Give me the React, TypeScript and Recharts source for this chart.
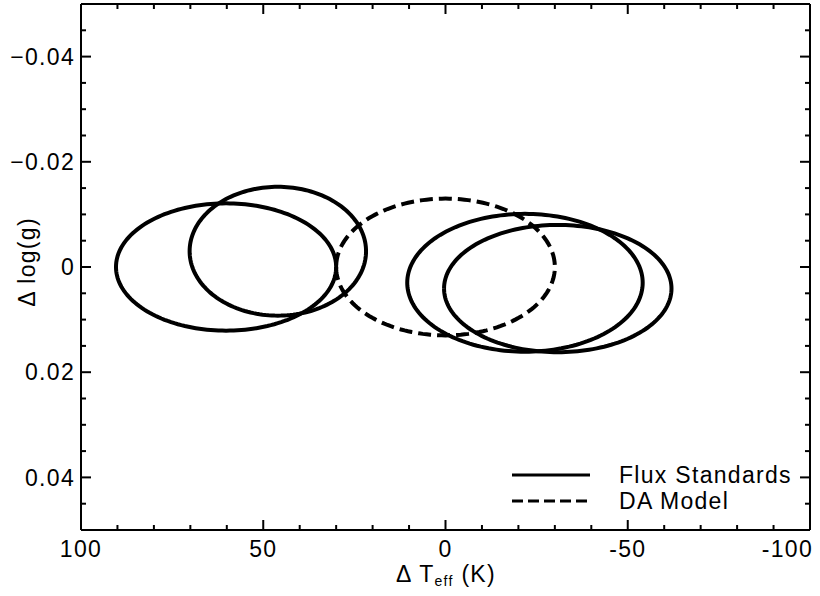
import React from "react";
import { ScatterChart, Scatter, XAxis, YAxis } from "recharts";

// error ellipses: centre and semi-axes
const ELLIPSE_NAMES = ["Star A", "Star B", "DA Model", "Star C", "Star D"];
const CENTER_TEFF = [60.2, 46, 0, -21.8, -30.8];
const CENTER_LOGG = [0, -0.003, 0, 0.003, 0.0041];
const SEMI_TEFF = [30.2, 24.2, 30, 32.3, 31.2];
const SEMI_LOGG = [0.0121, 0.01225, 0.013, 0.0131, 0.0121];
const IS_MODEL = [false, false, true, false, false];

const X_TICKS = [100, 90, 80, 70, 60, 50, 40, 30, 20, 10, 0, -10, -20, -30, -40, -50, -60, -70, -80, -90, -100];
const X_MAJOR = [100, 50, 0, -50, -100];
const Y_TICKS = [
  -0.05, -0.045, -0.04, -0.035, -0.03, -0.025, -0.02, -0.015, -0.01, -0.005, 0,
  0.005, 0.01, 0.015, 0.02, 0.025, 0.03, 0.035, 0.04, 0.045, 0.05,
];
const Y_MAJOR = [-0.04, -0.02, 0, 0.02, 0.04];

const LEGEND_LABELS = ["Flux Standards", "DA Model"];
const LEGEND_DASHED = [false, true];

const W = 820;
const H = 596;
const FONT = "'Liberation Sans', Arial, Helvetica, sans-serif";
const LS = "1.3px";
const DASH = "13 6";
const STEPS = 180;

const isMajor = (list: number[], v: number) => list.some(m => Math.abs(m - v) < 1e-9);

const ellipse = (i: number) => {
  const pts: { x: number; y: number }[] = [];
  for (let k = 0; k <= STEPS; k++) {
    const t = (2 * Math.PI * k) / STEPS;
    pts.push({
      x: CENTER_TEFF[i] + SEMI_TEFF[i] * Math.cos(t),
      y: CENTER_LOGG[i] + SEMI_LOGG[i] * Math.sin(t),
    });
  }
  return pts;
};

const fmtY = (v: number) => (Math.abs(v) < 1e-9 ? "0" : (v < 0 ? "\u2212" : "") + Math.abs(v).toFixed(2));

const BottomTick = (p: any) => {
  const v = p.payload.value;
  const major = isMajor(X_MAJOR, v);
  const last = v === -100;
  return (
    <g>
      <line x1={p.x} x2={p.x} y1={p.y} y2={p.y - (major ? 10 : 5)} stroke="#000" strokeWidth={2} />
      {major && (
        <text x={last ? p.x + 3 : p.x} y={p.y + 27} textAnchor={last ? "end" : "middle"} fontSize={23} fontFamily={FONT} letterSpacing={LS} fill="#000">
          {String(v)}
        </text>
      )}
    </g>
  );
};

const TopTick = (p: any) => {
  const major = isMajor(X_MAJOR, p.payload.value);
  return <line x1={p.x} x2={p.x} y1={p.y} y2={p.y + (major ? 10 : 5)} stroke="#000" strokeWidth={2} />;
};

const LeftTick = (p: any) => {
  const v = p.payload.value;
  const major = isMajor(Y_MAJOR, v);
  return (
    <g>
      <line x1={p.x} x2={p.x + (major ? 10 : 5)} y1={p.y} y2={p.y} stroke="#000" strokeWidth={2} />
      {major && (
        <text x={p.x - 6} y={p.y} dy="0.36em" textAnchor="end" fontSize={23} fontFamily={FONT} letterSpacing={LS} fill="#000">
          {fmtY(v)}
        </text>
      )}
    </g>
  );
};

const RightTick = (p: any) => {
  const major = isMajor(Y_MAJOR, p.payload.value);
  return <line x1={p.x} x2={p.x - (major ? 10 : 5)} y1={p.y} y2={p.y} stroke="#000" strokeWidth={2} />;
};

const axisLine = { stroke: "#000", strokeWidth: 2 };

export default function App() {
  return (
    <div style={{ position: "absolute", left: 0, top: 0, width: W, height: H, background: "#fff", fontFamily: FONT }}>
      <ScatterChart width={W} height={H} margin={{ top: 3, right: 9, bottom: 65, left: 80 }}>
        <XAxis
          type="number" dataKey="x" domain={[-100, 100]} reversed allowDataOverflow
          ticks={X_TICKS} interval={0} height={1} tickSize={0} tickMargin={0}
          tickLine={false} axisLine={axisLine} tick={<BottomTick />}
        />
        <XAxis
          xAxisId="top" orientation="top" type="number" dataKey="x" domain={[-100, 100]} reversed allowDataOverflow
          ticks={X_TICKS} interval={0} height={1} tickSize={0} tickMargin={0}
          tickLine={false} axisLine={axisLine} tick={<TopTick />}
        />
        <YAxis
          type="number" dataKey="y" domain={[-0.05, 0.05]} reversed allowDataOverflow
          ticks={Y_TICKS} interval={0} width={1} tickSize={0} tickMargin={0}
          tickLine={false} axisLine={axisLine} tick={<LeftTick />}
        />
        <YAxis
          yAxisId="right" orientation="right" type="number" dataKey="y" domain={[-0.05, 0.05]} reversed allowDataOverflow
          ticks={Y_TICKS} interval={0} width={1} tickSize={0} tickMargin={0}
          tickLine={false} axisLine={axisLine} tick={<RightTick />}
        />
        {ELLIPSE_NAMES.map((name, i) => (
          <Scatter
            key={name}
            name={name}
            data={ellipse(i)}
            isAnimationActive={false}
            shape={() => <g />}
            line={{ stroke: "#000", strokeWidth: 4, strokeDasharray: IS_MODEL[i] ? DASH : undefined, fill: "none" }}
            lineType="joint"
            legendType="none"
          />
        ))}
      </ScatterChart>

      {/* legend */}
      <div style={{ position: "absolute", left: 512, top: 462 }}>
        {LEGEND_LABELS.map((label, i) => (
          <div key={label} style={{ display: "flex", alignItems: "center", height: 26 }}>
            <svg width={80} height={6} style={{ display: "block" }}>
              <line x1={0} x2={78} y1={3} y2={3} stroke="#000" strokeWidth={3} strokeDasharray={LEGEND_DASHED[i] ? "11 5" : undefined} />
            </svg>
            <span style={{ marginLeft: 27, fontSize: 23, letterSpacing: LS, lineHeight: "26px", color: "#000" }}>{label}</span>
          </div>
        ))}
      </div>

      {/* axis titles */}
      <div style={{ position: "absolute", left: 346, width: 200, top: 560, textAlign: "center", fontSize: 23, letterSpacing: LS, lineHeight: "28px", color: "#000" }}>
        {"\u0394 T"}
        <span style={{ fontSize: 14, position: "relative", top: 4 }}>eff</span>
        {" (K)"}
      </div>
      <div
        style={{
          position: "absolute", left: 27, top: 262, width: 200, marginLeft: -100, marginTop: -14,
          textAlign: "center", fontSize: 23, letterSpacing: LS, lineHeight: "28px", color: "#000", transform: "rotate(-90deg)",
        }}
      >
        {"\u0394 log(g)"}
      </div>
    </div>
  );
}
